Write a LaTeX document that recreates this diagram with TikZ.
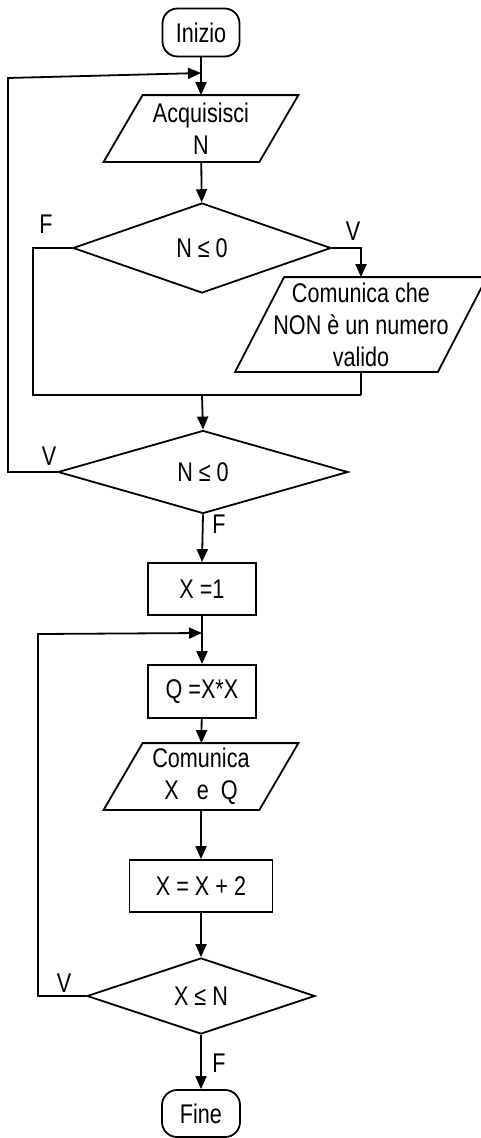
\documentclass[tikz,border=0pt]{standalone}
\usepackage{fontspec}
\setmainfont{Liberation Sans}[FakeStretch=0.8]
\usetikzlibrary{shapes.geometric,arrows.meta}
\begin{document}
\begin{tikzpicture}[x=1pt,y=-1pt, line width=1.8pt, line join=miter,
  font=\fontsize{27}{32}\selectfont,
  arr/.style={-{Triangle[length=13pt,width=11pt]}},
  term/.style={draw, rounded corners=15pt, minimum width=77pt, minimum height=48pt, inner sep=0pt},
  proc/.style={draw, minimum height=52pt, inner sep=0pt},
  dec/.style={draw, diamond, inner sep=0pt},
  io/.style={align=center, inner sep=0pt},
  lab/.style={inner sep=0pt}]
\clip (0,0) rectangle (481,1138);
\fill[white] (0,0) rectangle (481,1138);

% nodes
\node[term] (ini) at (201,32.5) {Inizio};
\node[io, minimum width=193pt, minimum height=65pt] (acq) at (201,128.5) {Acquisisci\\N};
\draw ([xshift=39pt]acq.north west) -- (acq.north east) -- ([xshift=-39pt]acq.south east) -- (acq.south west) -- cycle;
\node[dec, minimum width=258pt, minimum height=90pt] (d1) at (202,248) {N ≤ 0};
\node[io, minimum width=250pt, minimum height=93pt] (com1) at (361,324.5) {Comunica che\\NON è un numero\\valido};
\draw ([xshift=49pt]com1.north west) -- (com1.north east) -- ([xshift=-49pt]com1.south east) -- (com1.south west) -- cycle;
\node[dec, minimum width=290pt, minimum height=83pt] (d2) at (203,472) {N ≤ 0};
\node[proc, minimum width=108pt] (x1) at (202,589) {X =1};
\node[proc, minimum width=108pt, minimum height=53pt] (q) at (202,691.5) {Q =X*X};
\node[io, minimum width=193pt, minimum height=65pt] (com2) at (201,776.5) {Comunica\\X~~~e~~Q};
\draw ([xshift=39pt]com2.north west) -- (com2.north east) -- ([xshift=-39pt]com2.south east) -- (com2.south west) -- cycle;
\node[proc, minimum width=143pt] (x2) at (201,886) {X = X + 2};
\node[dec, minimum width=228pt, minimum height=76pt] (d3) at (201,996) {X ≤ N};
\node[term, minimum width=78pt, minimum height=47pt] (fine) at (201,1113.5) {Fine};

% labels
\node[lab] (lF1) at (46,224) {F};
\node[lab] (lV1) at (353,231) {V};
\node[lab] (lV2) at (49,456) {V};
\node[lab] (lF2) at (219,524) {F};
\node[lab] (lV3) at (64,983) {V};
\node[lab] (lF3) at (219,1063) {F};

% helper coordinates
\coordinate (j1) at (201,73);
\coordinate (a1) at (8,472);
\coordinate (a2) at (8,78);
\coordinate (b1) at (33,248);
\coordinate (b2) at (33,395);
\coordinate (m1) at (361,395);
\coordinate (m0) at (202,395);
\coordinate (j2) at (202,633);
\coordinate (c1) at (38,996);
\coordinate (c2) at (38,634);

% connectors
\draw[arr] (ini) -- (acq);
\draw[arr] (d2.west) -- (a1) -- (a2) -- (j1);
\draw[arr] (acq) -- (d1);
\draw (d1.west) -- (b1) -- (b2) -- (m1);
\draw (com1.south) -- (m1);
\draw[arr] (d1.east) -| (com1.north);
\draw[arr] (m0) -- (d2.north);
\draw[arr] (d2.south) -- (x1.north);
\draw[arr] (x1) -- (q);
\draw[arr] (d3.west) -- (c1) -- (c2) -- (j2);
\draw[arr] (q) -- (com2);
\draw[arr] (com2) -- (x2);
\draw[arr] (x2) -- (d3.north);
\draw[arr] (d3.south) -- (fine.north);
\end{tikzpicture}
\end{document}
